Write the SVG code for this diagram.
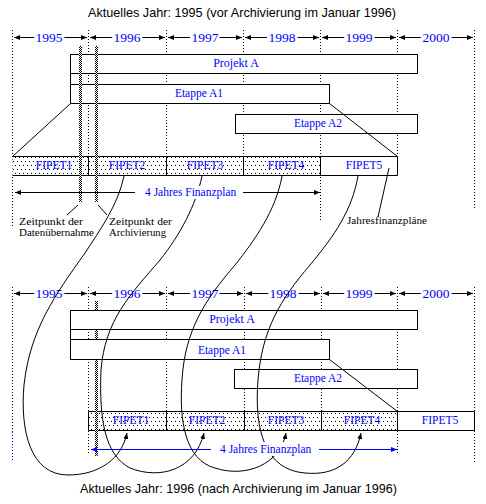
<svg xmlns="http://www.w3.org/2000/svg" width="486" height="504" viewBox="0 0 486 504">
<defs>
  <pattern id="dots" width="4" height="8" patternUnits="userSpaceOnUse">
    <rect width="4" height="8" fill="#fff"/>
    <rect x="1" y="1" width="1" height="1" fill="#000"/>
    <rect x="3" y="5" width="1" height="1" fill="#000"/>
  </pattern>
  <pattern id="hatch" width="2" height="2" patternUnits="userSpaceOnUse">
    <rect width="2" height="2" fill="#fff"/>
    <rect width="1" height="1" fill="#000"/>
    <rect x="1" y="1" width="1" height="1" fill="#000"/>
  </pattern>
  <marker id="ah" viewBox="0 0 6 6" refX="6" refY="3" markerWidth="6" markerHeight="6" markerUnits="userSpaceOnUse" orient="auto-start-reverse">
    <path d="M0,0.5 L6,3 L0,5.5 z" fill="#000"/>
  </marker>
  <marker id="ahb" viewBox="0 0 6 6" refX="6" refY="3" markerWidth="6" markerHeight="6" markerUnits="userSpaceOnUse" orient="auto-start-reverse">
    <path d="M0,0.5 L6,3 L0,5.5 z" fill="#00f"/>
  </marker>
</defs>
<style>
  .dot{stroke:#000;stroke-width:1;stroke-dasharray:1 2;fill:none}
  .dotb{stroke:#00f;stroke-width:1;stroke-dasharray:1 2;fill:none}
  .ln{stroke:#000;stroke-width:1;fill:none}
  .box{fill:#fff;stroke:#000;stroke-width:1}
  .axis{stroke:#000;stroke-width:1;fill:none;marker-start:url(#ah);marker-end:url(#ah)}
  .yr{font-family:"Liberation Serif",serif;font-size:13.5px;fill:#00f;text-anchor:middle;stroke:#fff;stroke-width:5;paint-order:stroke}
  .lbl{font-family:"Liberation Serif",serif;font-size:12px;fill:#00f;text-anchor:middle}
  .fp{font-family:"Liberation Serif",serif;font-size:11.5px;fill:#00f;text-anchor:middle}
  .blk{font-family:"Liberation Serif",serif;font-size:11px;fill:#000}
  .ttl{font-family:"Liberation Sans",Arial,sans-serif;font-size:13px;fill:#000}
  .crv{stroke:#000;stroke-width:1;fill:none;marker-end:url(#ah)}
</style>

<rect width="486" height="504" fill="#fff"/>

<!-- titles -->
<text class="ttl" x="88" y="17" textLength="308" lengthAdjust="spacingAndGlyphs">Aktuelles Jahr: 1995 (vor Archivierung im Januar 1996)</text>
<text class="ttl" x="80" y="493" textLength="317" lengthAdjust="spacingAndGlyphs">Aktuelles Jahr: 1996 (nach Archivierung im Januar 1996)</text>

<!-- year grid top -->
<g id="grid-top">
  <line class="dot" x1="12.5" y1="30" x2="12.5" y2="227"/>
  <line class="dot" x1="88.5" y1="30" x2="88.5" y2="156"/>
  <line class="dot" x1="166.5" y1="30" x2="166.5" y2="156"/>
  <line class="dot" x1="243.5" y1="30" x2="243.5" y2="156"/>
  <line class="dot" x1="320.5" y1="30" x2="320.5" y2="220"/>
  <line class="dot" x1="397.5" y1="30" x2="397.5" y2="156"/>
  <line class="dot" x1="474.5" y1="30" x2="474.5" y2="208"/>
  <line class="axis" x1="14" y1="37.5" x2="87" y2="37.5"/>
  <line class="axis" x1="90" y1="37.5" x2="165" y2="37.5"/>
  <line class="axis" x1="168" y1="37.5" x2="242" y2="37.5"/>
  <line class="axis" x1="245" y1="37.5" x2="319" y2="37.5"/>
  <line class="axis" x1="322" y1="37.5" x2="396" y2="37.5"/>
  <line class="axis" x1="399" y1="37.5" x2="473" y2="37.5"/>
  <text class="yr" x="49" y="42">1995</text>
  <text class="yr" x="127" y="42">1996</text>
  <text class="yr" x="205" y="42">1997</text>
  <text class="yr" x="282" y="42">1998</text>
  <text class="yr" x="359" y="42">1999</text>
  <text class="yr" x="436" y="42">2000</text>
</g>

<!-- year grid bottom -->
<g id="grid-bottom">
  <line class="dot" x1="12.5" y1="287" x2="12.5" y2="432"/>
  <line class="dotb" x1="12.5" y1="432" x2="12.5" y2="460"/>
  <line class="dot" x1="88.5" y1="287" x2="88.5" y2="453"/>
  <line class="dot" x1="166.5" y1="287" x2="166.5" y2="411"/>
  <line class="dot" x1="244.5" y1="287" x2="244.5" y2="411"/>
  <line class="dot" x1="321.5" y1="287" x2="321.5" y2="411"/>
  <line class="dot" x1="397.5" y1="287" x2="397.5" y2="455"/>
  <line class="dot" x1="474.5" y1="287" x2="474.5" y2="464"/>
  <line class="axis" x1="14" y1="293.5" x2="87" y2="293.5"/>
  <line class="axis" x1="90" y1="293.5" x2="165" y2="293.5"/>
  <line class="axis" x1="168" y1="293.5" x2="243" y2="293.5"/>
  <line class="axis" x1="246" y1="293.5" x2="320" y2="293.5"/>
  <line class="axis" x1="323" y1="293.5" x2="396" y2="293.5"/>
  <line class="axis" x1="399" y1="293.5" x2="473" y2="293.5"/>
  <text class="yr" x="49" y="298">1995</text>
  <text class="yr" x="127" y="298">1996</text>
  <text class="yr" x="205" y="298">1997</text>
  <text class="yr" x="283" y="298">1998</text>
  <text class="yr" x="359" y="298">1999</text>
  <text class="yr" x="436" y="298">2000</text>
</g>

<!-- top project boxes -->
<g id="projekt-a-top">
  <rect class="box" x="70.5" y="54.5" width="347" height="19"/>
  <text class="lbl" x="236" y="66.5">Projekt  A</text>
</g>
<g id="etappe-a1-top">
  <line class="ln" x1="70.5" y1="73.5" x2="70.5" y2="84.5"/>
  <rect class="box" x="70.5" y="84.5" width="259" height="19"/>
  <text class="lbl" x="199" y="96.5" style="font-size:11.5px">Etappe A1</text>
</g>
<g id="etappe-a2-top">
  <rect class="box" x="235.5" y="114.5" width="182" height="19"/>
  <text class="lbl" x="318" y="127" style="font-size:11.5px">Etappe A2</text>
</g>

<!-- bottom project boxes -->
<g id="projekt-a-bottom">
  <rect class="box" x="70.5" y="310.5" width="347" height="19"/>
  <text class="lbl" x="232" y="322.5">Projekt A</text>
</g>
<g id="etappe-a1-bottom">
  <line class="ln" x1="70.5" y1="329.5" x2="70.5" y2="339.5"/>
  <rect class="box" x="70.5" y="339.5" width="259" height="20"/>
  <text class="lbl" x="222" y="353.5" style="font-size:11.5px">Etappe A1</text>
</g>
<g id="etappe-a2-bottom">
  <rect class="box" x="234.5" y="369.5" width="183" height="19"/>
  <text class="lbl" x="318" y="382" style="font-size:11.5px">Etappe A2</text>
</g>

<!-- top FIPET bar -->
<g id="fipet-top">
  <rect x="12.5" y="156.5" width="308" height="19" fill="url(#dots)"/>
  <rect x="320.5" y="156.5" width="77" height="19" fill="#fff"/>
  <path class="ln" d="M12.5,156.5 H397.5 V175.5 H12.5 M88.5,156.5 V175.5 M166.5,156.5 V175.5 M243.5,156.5 V175.5 M320.5,156.5 V175.5"/>
  <text class="fp" x="54" y="168.5">FIPET1</text>
  <text class="fp" x="127" y="168.5">FIPET2</text>
  <text class="fp" x="205" y="168.5">FIPET3</text>
  <text class="fp" x="286" y="168.5">FIPET4</text>
  <text class="fp" x="364" y="168.5">FIPET5</text>
</g>

<!-- bottom FIPET bar -->
<g id="fipet-bottom">
  <rect x="88.5" y="411.5" width="309" height="19" fill="url(#dots)"/>
  <rect x="397.5" y="411.5" width="77" height="19" fill="#fff"/>
  <path class="ln" d="M88.5,411.5 H474.5 V430.5 H88.5 Z M166.5,411.5 V430.5 M244.5,411.5 V430.5 M321.5,411.5 V430.5 M397.5,411.5 V430.5"/>
  <text class="fp" x="131" y="424">FIPET1</text>
  <text class="fp" x="207" y="424">FIPET2</text>
  <text class="fp" x="286" y="424">FIPET3</text>
  <text class="fp" x="362" y="424">FIPET4</text>
  <text class="fp" x="440" y="424">FIPET5</text>
</g>

<!-- hatched time markers -->
<g id="zeitpunkte">
  <rect x="79" y="46" width="3" height="156" fill="url(#hatch)"/>
  <rect x="95" y="46" width="3" height="156" fill="url(#hatch)"/>
  <rect x="95" y="301" width="3" height="9" fill="url(#hatch)"/>
  <rect x="95" y="330" width="3" height="9" fill="url(#hatch)"/>
  <rect x="95" y="360" width="3" height="96" fill="url(#hatch)"/>
</g>

<!-- connectors -->
<g id="connectors">
  <line class="ln" x1="70.5" y1="103.5" x2="12.5" y2="156.5"/>
  <line class="ln" x1="329.5" y1="103.5" x2="397.5" y2="156.5"/>
  <line class="ln" x1="329.5" y1="359.5" x2="397.5" y2="411.5"/>
  <path class="crv" d="M124,176 C118,205 100,230 85,253 C55,295 30,330 24,385 C20,430 30,475 68,475 C100,475 122,458 127,433"/>
  <path class="crv" d="M202,176 C196,205 180,235 160,260 C130,295 105,320 101,370 C99,420 105,455 130,468 C160,480 195,470 204,433"/>
  <path class="crv" d="M282,176 C276,210 255,240 235,265 C205,300 185,330 182,380 C179,420 185,460 215,468 C245,478 280,465 286,433"/>
  <path class="crv" d="M358,176 C352,210 335,235 310,265 C280,300 262,330 258,380 C254,430 265,470 305,473 C335,476 355,462 361,433"/>
  <line class="ln" x1="67" y1="215" x2="78" y2="205"/>
  <line class="ln" x1="98" y1="205" x2="107" y2="215"/>
  <line class="ln" x1="378" y1="217" x2="389" y2="168"/>
</g>

<!-- 4 Jahres Finanzplan top -->
<g id="finanzplan-top">
  <line class="ln" x1="135" y1="192.5" x2="15" y2="192.5" style="marker-end:url(#ah)"/>
  <line class="ln" x1="243" y1="192.5" x2="320" y2="192.5" style="marker-end:url(#ah)"/>
  <rect x="140" y="186" width="98" height="13" fill="#fff"/>
  <text class="fp" x="145" y="196" style="text-anchor:start">4 Jahres Finanzplan</text>
</g>

<!-- 4 Jahres Finanzplan bottom -->
<g id="finanzplan-bottom">
  <line x1="211" y1="449.5" x2="91" y2="449.5" stroke="#00f" stroke-width="1" style="marker-end:url(#ahb)"/>
  <line x1="319" y1="449.5" x2="397" y2="449.5" stroke="#00f" stroke-width="1" style="marker-end:url(#ahb)"/>
  <rect x="215" y="442" width="99" height="14" fill="#fff"/>
  <text class="fp" x="220" y="453" style="text-anchor:start">4 Jahres Finanzplan</text>
</g>

<!-- labels -->
<g id="label-uebernahme">
  <text class="blk" x="19" y="225" textLength="64" lengthAdjust="spacingAndGlyphs">Zeitpunkt der</text>
  <text class="blk" x="19" y="236" textLength="75" lengthAdjust="spacingAndGlyphs">Datenübernahme</text>
</g>
<g id="label-archivierung">
  <text class="blk" x="109" y="225" textLength="63" lengthAdjust="spacingAndGlyphs">Zeitpunkt der</text>
  <text class="blk" x="109" y="236" textLength="57" lengthAdjust="spacingAndGlyphs">Archivierung</text>
</g>
<g id="label-jahresfinanzplaene">
  <text class="blk" x="347" y="224" textLength="80" lengthAdjust="spacingAndGlyphs">Jahresfinanzpläne</text>
</g>
</svg>
